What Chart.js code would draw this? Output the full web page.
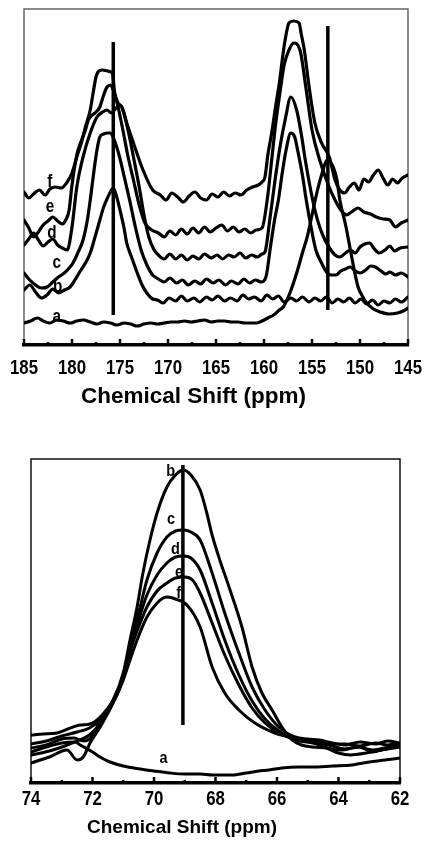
<!DOCTYPE html>
<html>
<head>
<meta charset="utf-8">
<title>13C CP/MAS spectra</title>
<script src="https://cdn.jsdelivr.net/npm/chart.js@4.4.1/dist/chart.umd.min.js"></script>
<style>
  html, body { margin: 0; padding: 0; background: #fff; }
  #page { position: relative; width: 425px; height: 842px; overflow: hidden; }
  .panel { position: absolute; left: 0; width: 425px; }
  canvas { display: block; }
</style>
</head>
<body>
<div id="page">
  <div class="panel" style="top:0;height:420px"><canvas id="carbonyl" width="425" height="420"></canvas></div>
  <div class="panel" style="top:430px;height:412px"><canvas id="methine" width="425" height="412"></canvas></div>
</div>
<script>
// ---------- Carbonyl / carboxyl region (185-145 ppm), stacked spectra a-f ----------
// each point: [chemical shift (ppm), intensity incl. stacking offset]
const topA = [[185,22],[184.3,24],[183.6,27],[183.0,24],[182.3,22],[181.6,25],[180.9,24],[180.2,22],[179.5,24],[178.8,25],
  [178.1,23],[177.4,21],[176.7,23],[176.0,22],[175.3,20],[174.6,22],[173.9,21],[173.2,19],[172.5,21],[171.8,22],
  [171.1,21],[170.4,22],[169.7,23],[169.0,23],[168.3,24],[167.6,23],[166.9,24],[166.2,25],[165.5,23],[164.8,24],
  [164.1,24],[163.4,23],[162.7,23],[162.0,22],[161.3,22],[160.7,22],[160.2,24],[159.6,27],[159.0,30],[158.4,35],
  [158.0,38],[157.3,52],[156.5,75],[156.0,92],[155.5,108],[155.0,130],[154.5,152],[154.0,170],[153.4,185],[152.8,178],
  [152.4,165],[152.1,145],[151.5,120],[151.0,95],[150.6,75],[150.2,58],[149.7,48],[149.3,42],[148.6,36],[147.9,33],
  [147.0,31],[146.1,32],[145.5,34],[145,37]];

const topB = [[185,55],[184.4,60],[183.8,53],[183.2,47],[182.6,50],[182.0,56],[181.4,52],[180.8,55],[180.2,58],[179.7,65],
  [179.2,73],[178.6,82],[178.1,92],[177.6,108],[177.1,125],[176.7,138],[176.4,145],[176.0,153],[175.7,157],[175.4,150],
  [175.0,135],[174.6,118],[174.3,102],[173.8,88],[173.2,72],[172.7,60],[172.2,52],[171.6,46],[171.1,45],[170.5,42],
  [169.9,47],[169.2,44],[168.6,49],[168.0,44],[167.3,47],[166.7,43],[166.0,48],[165.4,45],[164.8,49],[164.1,44],
  [163.5,47],[162.8,44],[162.2,50],[161.6,46],[161.0,48],[160.3,44],[159.7,50],[159.1,46],[158.5,49],[157.9,43],
  [157.2,47],[156.6,44],[156.0,48],[155.3,43],[154.7,47],[154.1,44],[153.5,48],[152.9,42],[152.3,46],[151.7,43],
  [151.1,47],[150.5,42],[149.9,46],[149.3,41],[148.7,45],[148.1,40],[147.5,44],[146.9,42],[146.3,46],[145.7,43],[145.0,48]];

const topC = [[185,72],[184.4,65],[183.8,60],[183.2,57],[182.6,58],[182.0,63],[181.4,68],[180.8,72],[180.2,78],[179.9,82],
  [179.4,92],[178.85,105],[178.4,125],[178.1,145],[177.7,175],[177.4,195],[177.1,208],[176.7,211],[176.3,212],[176.0,212],
  [175.6,205],[175.1,190],[174.6,170],[174.0,145],[173.4,118],[172.8,95],[172.2,80],[171.6,70],[171.0,66],[170.4,63],
  [169.8,67],[169.1,62],[168.5,65],[167.9,60],[167.2,64],[166.6,61],[166.0,66],[165.3,62],[164.7,65],[164.0,60],
  [163.4,64],[162.7,61],[162.1,66],[161.5,62],[160.9,65],[160.3,63],[159.8,68],[159.3,100],[158.9,125],[158.5,145],
  [158.1,172],[157.7,195],[157.2,212],[156.8,208],[156.5,195],[156.0,170],[155.6,145],[155.1,118],[154.6,95],[154.0,82],
  [153.5,73],[153.0,70],[152.5,70],[152.0,74],[151.5,76],[151.0,78],[150.5,74],[150.0,72],[149.4,75],[148.9,79],
  [148.4,78],[147.8,74],[147.3,71],[146.9,73],[146.3,70],[145.7,72],[145.0,68]];

const topD = [[185,100],[184.5,106],[184.0,112],[183.5,105],[183.0,99],[182.5,103],[182.0,106],[181.5,100],[181.0,97],[180.5,95],
  [180.0,118],[179.5,158],[178.85,188],[178.1,212],[177.4,228],[176.8,233],[176.35,235],[175.9,232],[175.5,236],[175.0,240],
  [174.6,232],[174.1,212],[173.6,188],[173.0,158],[172.5,130],[172.0,108],[171.5,96],[171.0,90],[170.4,86],[169.8,91],
  [169.2,86],[168.6,90],[168.0,85],[167.4,89],[166.8,86],[166.2,91],[165.5,87],[164.9,90],[164.3,86],[163.7,90],
  [163.1,88],[162.5,92],[161.9,87],[161.3,90],[160.7,88],[160.2,91],[159.9,93],[159.4,125],[158.85,165],[158.3,200],
  [157.8,225],[157.2,248],[156.6,235],[156.1,210],[155.7,185],[155.2,158],[154.7,135],[154.2,118],[153.65,105],[153.1,96],
  [152.6,90],[152.1,88],[151.5,92],[151.0,95],[150.5,92],[150.0,98],[149.5,101],[149.0,102],[148.5,96],[148.0,92],
  [147.4,95],[146.9,99],[146.4,94],[145.8,97],[145.0,98]];

const topE = [[185,125],[184.5,117],[184.0,108],[183.5,113],[183.0,120],[182.5,124],[182.0,128],[181.5,124],[181.0,121],[180.6,126],
  [180.3,135],[180.0,160],[179.5,190],[179.0,205],[178.6,215],[178.3,225],[177.9,230],[177.6,232],[177.1,238],[176.7,250],
  [176.35,258],[176.0,260],[175.6,252],[175.2,238],[174.7,215],[174.2,190],[173.6,165],[173.0,140],[172.4,122],[171.7,115],
  [171.0,112],[170.4,108],[169.8,114],[169.2,110],[168.6,116],[168.0,111],[167.4,117],[166.8,112],[166.2,118],[165.6,113],
  [165.0,117],[164.4,120],[163.8,114],[163.2,118],[162.6,113],[162.0,116],[161.4,112],[160.8,115],[160.2,117],[159.6,150],
  [159.2,185],[158.8,220],[158.3,255],[157.9,280],[157.4,295],[156.9,302],[156.25,295],[155.6,255],[155.0,215],[154.2,185],
  [153.3,160],[152.6,145],[152.0,135],[151.4,130],[150.9,133],[150.2,137],[149.6,133],[148.9,131],[148.3,128],[147.6,126],
  [146.9,125],[146.3,118],[145.7,122],[145.0,125]];

const topF = [[185,153],[184.5,147],[184.0,151],[183.4,155],[182.8,150],[182.3,156],[181.7,158],[181.1,157],[180.5,163],[180.0,172],
  [179.5,188],[179.0,203],[178.6,218],[178.1,235],[177.8,252],[177.5,268],[177.2,274],[176.8,275],[176.3,274],[175.8,272],
  [175.55,252],[175.2,242],[174.8,238],[174.3,222],[173.6,202],[172.6,175],[171.6,155],[170.8,150],[170.2,145],[169.6,152],
  [169.0,148],[168.4,143],[167.8,149],[167.2,153],[166.6,147],[166.0,145],[165.4,151],[164.8,148],[164.2,153],[163.6,149],
  [163.0,152],[162.4,150],[161.8,155],[161.2,158],[160.6,160],[160.2,163],[159.9,168],[159.6,190],[159.2,212],[158.8,238],
  [158.4,262],[158.1,285],[157.8,305],[157.4,322],[156.9,324],[156.35,322],[156.1,310],[155.8,295],[155.3,258],[154.7,222],
  [154.0,202],[153.2,188],[152.6,165],[152.1,155],[151.6,152],[151.1,158],[150.6,162],[150.1,155],[149.6,166],[149.1,163],
  [148.6,170],[148.1,175],[147.6,167],[147.1,160],[146.6,166],[146.1,162],[145.6,167],[145.0,170]];

// reference lines at 175.7 and 153.4 ppm
const topMarkers = [[[175.7,30],[175.7,303]], [[153.35,35],[153.35,319]]];
// spectrum letters: [text, ppm, intensity]
const topLabels = [['f',182.3,163],['e',182.3,138],['d',182.1,112],['c',181.6,82],['b',181.5,58],['a',181.6,28]];
const topMajorTicks = [145,150,155,160,165,170,175,180,185];
const topMinorTicks = [147.5,152.5,157.5,162.5,167.5,172.5,177.5,182.5];

// ---------- Methine region (74-62 ppm), overlaid spectra a-f ----------
const botA = [[74,31],[73.5,36],[73.0,40],[72.57,41],[72.4,38],[72.0,31],[71.7,25],[71.43,21],[71.0,17],[70.45,14],
  [70.0,12],[69.48,10],[69.0,9],[68.5,9],[68.1,8],[67.46,8],[67.0,10],[66.6,12],[66.26,13],[65.84,15],
  [65.3,16],[64.86,16],[64.2,17],[63.56,18],[63.0,21],[62.49,23],[62.0,25]];
const botB = [[74,48],[73.6,49],[73.15,50],[72.8,54],[72.4,58],[72.08,59],[71.75,66],[71.33,83],[71.0,110],[70.78,143],
  [70.55,176],[70.36,210],[70.13,243],[69.9,270],[69.58,296],[69.3,308],[69.05,313],[68.8,308],[68.5,293],[68.3,272],
  [68.11,248],[67.85,222],[67.56,196],[67.14,156],[66.81,116],[66.49,90],[66.16,73],[65.84,56],[65.51,43],[65.2,38],
  [64.86,36],[64.4,35],[63.9,33],[63.4,36],[62.9,33],[62.5,35],[62.0,38]];
const botC = [[74,39],[73.5,42],[73.0,47],[72.5,51],[72.1,55],[71.75,63],[71.43,76],[71.1,96],[70.88,123],[70.68,150],
  [70.45,176],[70.23,203],[69.9,230],[69.58,246],[69.3,252],[69.05,253],[68.8,251],[68.5,243],[68.11,210],[67.7,170],
  [67.24,130],[66.81,96],[66.39,73],[65.94,56],[65.41,46],[65.0,44],[64.63,43],[64.2,40],[63.8,38],[63.3,41],
  [62.8,39],[62.4,42],[62.0,40]];
const botD = [[74,35],[73.5,38],[73.0,44],[72.6,45],[72.3,42],[72.0,47],[71.75,62],[71.43,76],[71.1,97],[70.88,122],
  [70.68,146],[70.45,168],[70.23,188],[69.9,208],[69.58,220],[69.3,226],[69.05,227],[68.8,225],[68.5,213],[68.11,180],
  [67.7,143],[67.24,108],[66.81,82],[66.39,64],[65.94,52],[65.41,43],[65.0,41],[64.63,40],[64.2,37],[63.8,34],
  [63.3,36],[62.9,31],[62.5,34],[62.0,37]];
const botE = [[74,28],[73.4,32],[72.9,37],[72.5,42],[72.1,48],[71.75,60],[71.43,77],[71.1,98],[70.88,120],[70.68,141],
  [70.45,160],[70.23,176],[69.9,192],[69.58,200],[69.3,205],[69.0,206],[68.75,203],[68.5,190],[68.11,160],[67.7,128],
  [67.24,98],[66.81,75],[66.39,60],[65.94,50],[65.41,44],[65.0,42],[64.63,41],[64.2,39],[63.8,39],[63.3,37],
  [62.8,40],[62.4,38],[62.0,40]];
const botF = [[74,20],[73.4,26],[72.83,33],[72.5,23],[72.3,26],[72.08,40],[71.75,56],[71.33,80],[71.0,103],[70.78,123],
  [70.55,143],[70.23,166],[69.9,180],[69.7,185],[69.55,186],[69.3,184],[68.93,178],[68.5,156],[68.11,116],[67.7,90],
  [67.24,73],[66.72,60],[66.07,50],[65.6,46],[65.1,42],[64.6,38],[64.0,30],[63.6,28],[63.1,30],[62.6,33],[62.0,36]];

const botMarkers = [[[69.06,58],[69.06,318]]];
const botLabels = [['b',69.46,312],['c',69.45,264],['d',69.3,234],['e',69.19,211],['f',69.2,190],['a',69.69,25]];
const botMajorTicks = [62,64,66,68,70,72,74];
const botMinorTicks = [63,65,67,69,71,73];

const AXIS_TITLE = 'Chemical Shift (ppm)';
const FONT = '"Liberation Sans", Arial, Helvetica, sans-serif';

const toXY = pts => pts.map(([x, y]) => ({ x, y }));

// condensed bold text (narrow sans look) drawn with a horizontal squeeze
function narrowText(ctx, text, x, y, size, squeeze) {
  ctx.save();
  ctx.translate(x, y);
  ctx.scale(squeeze, 1);
  ctx.font = `bold ${size}px ${FONT}`;
  ctx.fillText(text, 0, 0);
  ctx.restore();
}

// frame, inward tick marks, tick numbers, spectrum letters and the axis title
const decorations = cfg => ({
  id: 'decorations',
  beforeDatasetsDraw(chart) {
    const { ctx, chartArea: a } = chart;
    ctx.save();
    ctx.strokeStyle = cfg.frameColor;
    ctx.lineWidth = cfg.frameWidth;
    ctx.beginPath();
    ctx.moveTo(a.left, a.bottom);
    ctx.lineTo(a.left, a.top);
    ctx.lineTo(a.right, a.top);
    ctx.lineTo(a.right, a.bottom);
    ctx.stroke();
    ctx.restore();
  },
  afterDraw(chart) {
    const { ctx, chartArea: a, scales: { x, y } } = chart;
    ctx.save();
    ctx.strokeStyle = '#000';
    ctx.fillStyle = '#000';
    const mark = (v, len) => {
      const px = x.getPixelForValue(v);
      ctx.lineWidth = 2.5;
      ctx.beginPath();
      ctx.moveTo(px, a.bottom);
      ctx.lineTo(px, a.bottom - len);
      ctx.stroke();
    };
    x.ticks.forEach(t => mark(t.value, cfg.major.includes(t.value) ? cfg.majorLen : cfg.minorLen));

    // tick numbers
    ctx.textAlign = 'center';
    ctx.textBaseline = 'alphabetic';
    x.ticks.filter(t => cfg.major.includes(t.value)).forEach(t =>
      narrowText(ctx, String(t.value), x.getPixelForValue(t.value), a.bottom + cfg.tickBaseline, cfg.tickSize, 0.8));

    // spectrum letters
    ctx.textBaseline = 'middle';
    cfg.labels.forEach(([t, ppm, val]) =>
      narrowText(ctx, t, x.getPixelForValue(ppm), y.getPixelForValue(val), cfg.labelSize, 0.85));

    // axis title
    ctx.font = `bold ${cfg.titleSize}px ${FONT}`;
    ctx.textAlign = 'left';
    ctx.textBaseline = 'alphabetic';
    ctx.fillText(AXIS_TITLE, cfg.titleX, cfg.titleY);
    ctx.restore();
  }
});

function spectrumChart(canvas, cfg) {
  const datasets = cfg.traces.map(t => ({
    data: toXY(t),
    showLine: true,
    borderColor: '#000',
    borderWidth: cfg.lineWidth,
    pointRadius: 0,
    fill: false,
    cubicInterpolationMode: 'monotone',
    borderJoinStyle: 'round',
    borderCapStyle: 'round'
  }));
  cfg.markers.forEach(m => datasets.push({
    data: toXY(m), showLine: true, borderColor: '#000', borderWidth: cfg.markerWidth,
    pointRadius: 0, fill: false, borderCapStyle: 'butt'
  }));
  const allTicks = [...cfg.major, ...cfg.minor].sort((p, q) => p - q);
  return new Chart(canvas, {
    type: 'scatter',
    data: { datasets },
    options: {
      responsive: false,
      animation: false,
      devicePixelRatio: 1,
      layout: { padding: cfg.padding },
      plugins: { legend: { display: false }, tooltip: { enabled: false } },
      scales: {
        x: {
          type: 'linear', position: 'bottom', reverse: true,
          min: cfg.xMin, max: cfg.xMax,
          afterBuildTicks: s => { s.ticks = allTicks.map(v => ({ value: v })); },
          afterFit: s => { s.height = cfg.axisHeight; },
          grid: { display: false, drawTicks: false, tickLength: 0 },
          border: { display: true, color: '#000', width: cfg.axisWidth },
          ticks: { display: false, autoSkip: false }
        },
        y: { display: false, min: 0, max: cfg.yMax }
      }
    },
    plugins: [decorations(cfg)]
  });
}

spectrumChart(document.getElementById('carbonyl'), {
  traces: [topA, topB, topC, topD, topE, topF],
  markers: topMarkers, labels: topLabels,
  major: topMajorTicks, minor: topMinorTicks,
  xMin: 145, xMax: 185, yMax: 336,
  padding: { left: 24, right: 17, top: 9, bottom: 0 },
  axisHeight: 75, axisWidth: 3.5, tickBaseline: 29, tickSize: 21,
  majorLen: 6, minorLen: 3,
  lineWidth: 3.2, markerWidth: 3.5,
  frameColor: '#666', frameWidth: 1.5,
  labelSize: 18, titleSize: 22.5, titleX: 81, titleY: 403
});

spectrumChart(document.getElementById('methine'), {
  traces: [botA, botB, botC, botD, botE, botF],
  markers: botMarkers, labels: botLabels,
  major: botMajorTicks, minor: botMinorTicks,
  xMin: 62, xMax: 74, yMax: 324,
  padding: { left: 31, right: 25, top: 29, bottom: 0 },
  axisHeight: 59, axisWidth: 3.5, tickBaseline: 22, tickSize: 21,
  majorLen: 6, minorLen: 3,
  lineWidth: 3, markerWidth: 3.5,
  frameColor: '#111', frameWidth: 1.5,
  labelSize: 17, titleSize: 19, titleX: 87, titleY: 403
});
</script>
</body>
</html>
